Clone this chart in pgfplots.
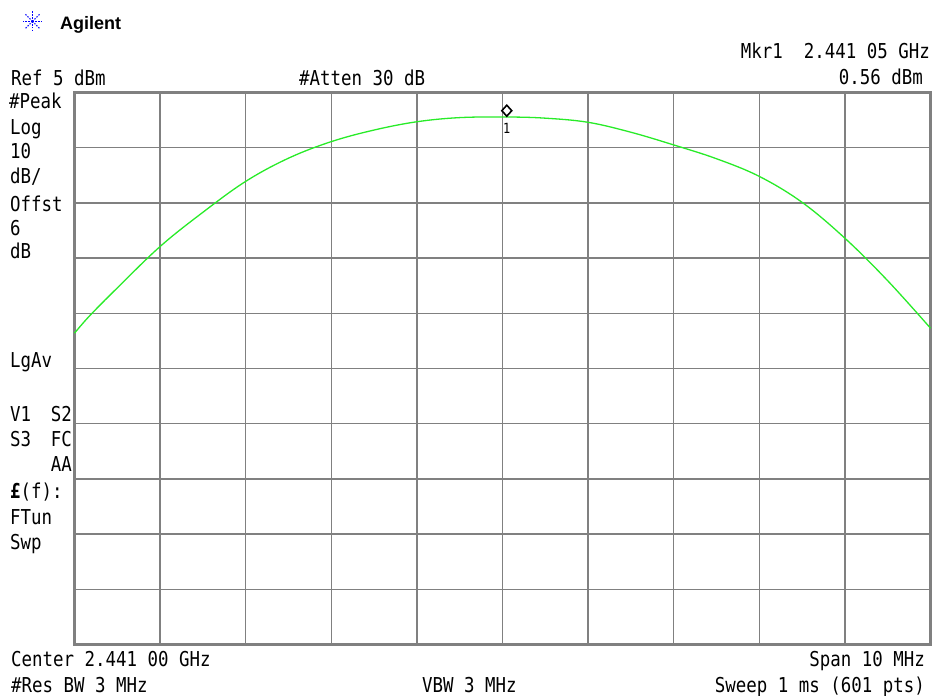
\documentclass[border=0pt]{standalone}
\usepackage{pgfplots}
\pgfplotsset{compat=1.18}
\usepackage{fontspec}
\setmainfont{DejaVu Sans Mono}
\newfontfamily\hp[FakeStretch=0.85]{DejaVu Sans Mono}
\newfontfamily\logofont{Liberation Sans}
\definecolor{gridgray}{RGB}{128,128,128}
\definecolor{trace}{RGB}{40,235,40}
\newcommand{\hpfont}{\hp\fontsize{20.5bp}{24bp}\selectfont}

\begin{document}
\begin{tikzpicture}
\useasboundingbox (0,0) rectangle (934bp,-696bp);
\begin{axis}[
  at={(74.5bp,-644.5bp)}, anchor=south west,
  scale only axis, width=856bp, height=552bp,
  xmin=2436, xmax=2446, ymin=-95, ymax=5,
  xtick={2436,2437,2438,2439,2440,2441,2442,2443,2444,2445,2446},
  ytick={-95,-85,-75,-65,-55,-45,-35,-25,-15,-5,5},
  xticklabels={}, yticklabels={},
  major tick length=0,
  grid=major,
  grid style={draw=gridgray, line width=1.5bp},
  axis line style={draw=gridgray, line width=2.5bp},
  clip=false,
]
% trace, MHz vs dBm
\addplot[trace, line width=1.3bp, smooth, tension=0.6] coordinates {
  (2436.00,-38.6) (2436.18,-35.4) (2436.50,-30.4)
  (2437.00,-22.9) (2437.50,-16.7) (2438.00,-11.1)
  (2438.50,-6.9) (2439.00,-3.9) (2439.50,-1.8)
  (2440.00,-0.3) (2440.50,0.45) (2441.05,0.56) (2441.50,0.35)
  (2442.00,-0.4) (2442.50,-2.2) (2443.00,-4.5)
  (2443.50,-7.0) (2444.00,-10.2) (2444.50,-14.9) (2445.00,-21.4)
  (2445.50,-29.1) (2446.00,-37.7)
};
% marker 1
\addplot[only marks, mark=diamond, mark size=5.5bp,
  mark options={draw=black, fill=white, line width=1.6bp, xscale=1.2, yshift=6.3bp}]
  coordinates {(2441.05,0.56)};
\node[anchor=base, inner sep=0pt, font=\hp\fontsize{14bp}{16bp}\selectfont, yshift=-16bp]
  at (axis cs:2441.05,0.56) {1};
\end{axis}

\begin{scope}[x=1bp, y=-1bp, every node/.style={inner sep=0pt, font=\hpfont}]
  % logo
  \foreach \a in {0,45,...,315}
    \draw[blue, line width=1.1bp, dash pattern=on 1.4bp off 1.4bp] (32.5,21.3) -- ++(\a:11);
  \node[anchor=base west, font=\logofont\bfseries\fontsize{18bp}{20bp}\selectfont] at (60,29) {Agilent};

  \node[anchor=base east] at (930,58) {Mkr1~~2.441 05 GHz};
  \node[anchor=base east] at (923,84) {0.56 dBm};
  \node[anchor=base west] at (11,85) {Ref 5 dBm};
  \node[anchor=base west] at (299,85) {\#Atten 30 dB};

  \node[anchor=base west] at (9,108) {\#Peak};
  \node[anchor=base west] at (10,134) {Log};
  \node[anchor=base west] at (10,158) {10};
  \node[anchor=base west] at (10,183) {dB/};
  \node[anchor=base west] at (10,211) {Offst};
  \node[anchor=base west] at (10,235) {6};
  \node[anchor=base west] at (10,258) {dB};
  \node[anchor=base west] at (10,367) {LgAv};
  \node[anchor=base west] at (10,421) {V1};
  \node[anchor=base east] at (72,421) {S2};
  \node[anchor=base west] at (10,446) {S3};
  \node[anchor=base east] at (72,446) {FC};
  \node[anchor=base east] at (72,471) {AA};
  \node[anchor=base west] at (10,498) {{\bfseries £}(f):};
  \node[anchor=base west] at (10,524) {FTun};
  \node[anchor=base west] at (10,549) {Swp};

  \node[anchor=base west] at (11,666) {Center 2.441 00 GHz};
  \node[anchor=base east] at (925,666) {Span 10 MHz};
  \node[anchor=base west] at (11,692) {\#Res BW 3 MHz};
  \node[anchor=base west] at (422,692) {VBW 3 MHz};
  \node[anchor=base east] at (925,692) {Sweep 1 ms (601 pts)};
\end{scope}
\end{tikzpicture}
\end{document}
